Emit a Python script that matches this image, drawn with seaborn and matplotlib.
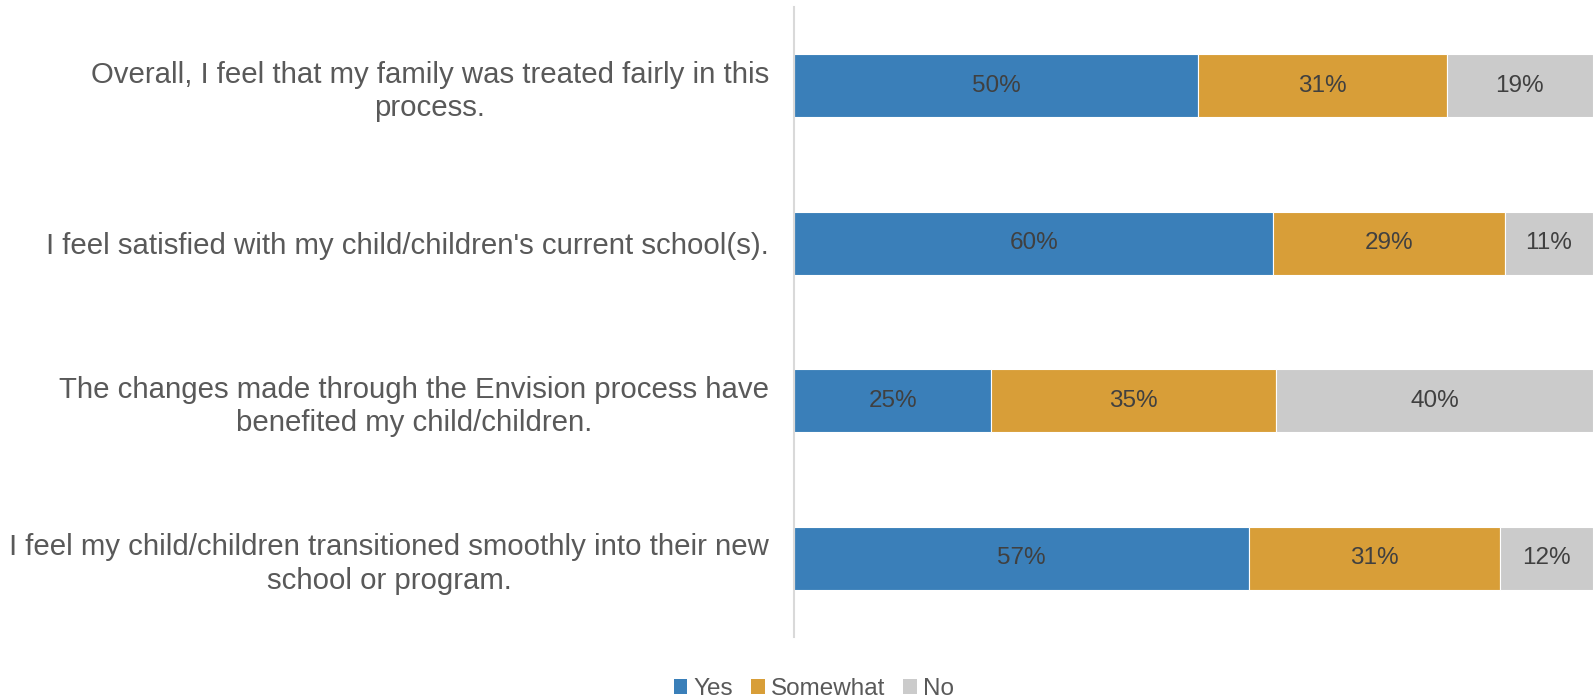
import matplotlib
matplotlib.use("Agg")
import matplotlib.pyplot as plt
import seaborn as sns
import pandas as pd
import numpy as np
from matplotlib.patches import Patch

questions = [
    "Overall, I feel that my family was treated fairly in this\nprocess.",
    "I feel satisfied with my child/children's current school(s).",
    "The changes made through the Envision process have\nbenefited my child/children.",
    "I feel my child/children transitioned smoothly into their new\nschool or program.",
]
yes = [50.6, 60.0, 24.7, 56.9]
somewhat = [31.1, 29.0, 35.6, 31.5]
no = [18.3, 11.0, 39.7, 11.6]
yes_labels = ["50%", "60%", "25%", "57%"]
somewhat_labels = ["31%", "29%", "35%", "31%"]
no_labels = ["19%", "11%", "40%", "12%"]
series = ["Yes", "Somewhat", "No"]
colors = ["#3A7FB9", "#D89E38", "#CBCBCB"]

sns.set_style("white")
plt.rcParams['font.family'] = ['Liberation Sans', 'DejaVu Sans']

fig = plt.figure(figsize=(15.93, 6.98), dpi=100)
ax = fig.add_axes([0.4984, 0.0874, 0.5016, 0.9026])

values = [yes, somewhat, no]
labels = [yes_labels, somewhat_labels, no_labels]
left = np.zeros(len(questions))
for name, vals, labs, col in zip(series, values, labels, colors):
    df = pd.DataFrame({"q": questions, "v": vals})
    sns.barplot(data=df, x="v", y="q", orient="h", color=col, left=left,
                width=0.4, ax=ax, edgecolor="white", linewidth=0.8, saturation=1)
    for i, (v, l) in enumerate(zip(vals, labs)):
        ax.text(left[i] + v / 2, i, l, ha="center", va="center",
                fontsize=17.5, color="#404040")
    left = left + np.array(vals)

ax.set_xlim(0, 100)
ax.set_ylim(3.5, -0.5)
ax.set_xlabel("")
ax.set_ylabel("")
ax.set_xticks([])
ax.tick_params(axis="y", length=0, pad=18, labelsize=21.2, labelcolor="#595959")
for lab in ax.get_yticklabels():
    lab.set_horizontalalignment("right")
    lab.set_multialignment("center")
    lab.set_linespacing(1.24)
for s in ["top", "right", "bottom"]:
    ax.spines[s].set_visible(False)
ax.spines["left"].set_color("#D9D9D9")
ax.spines["left"].set_linewidth(1.5)

handles = [Patch(facecolor=c, edgecolor="none") for c in colors]
fig.legend(handles, series, loc="center", bbox_to_anchor=(0.511, 0.013), ncol=3,
           frameon=False, fontsize=17.5, handlelength=0.55, handleheight=0.55,
           handletextpad=0.25, columnspacing=0.75, labelcolor="#595959")

fig.savefig("out.png", dpi=100)
